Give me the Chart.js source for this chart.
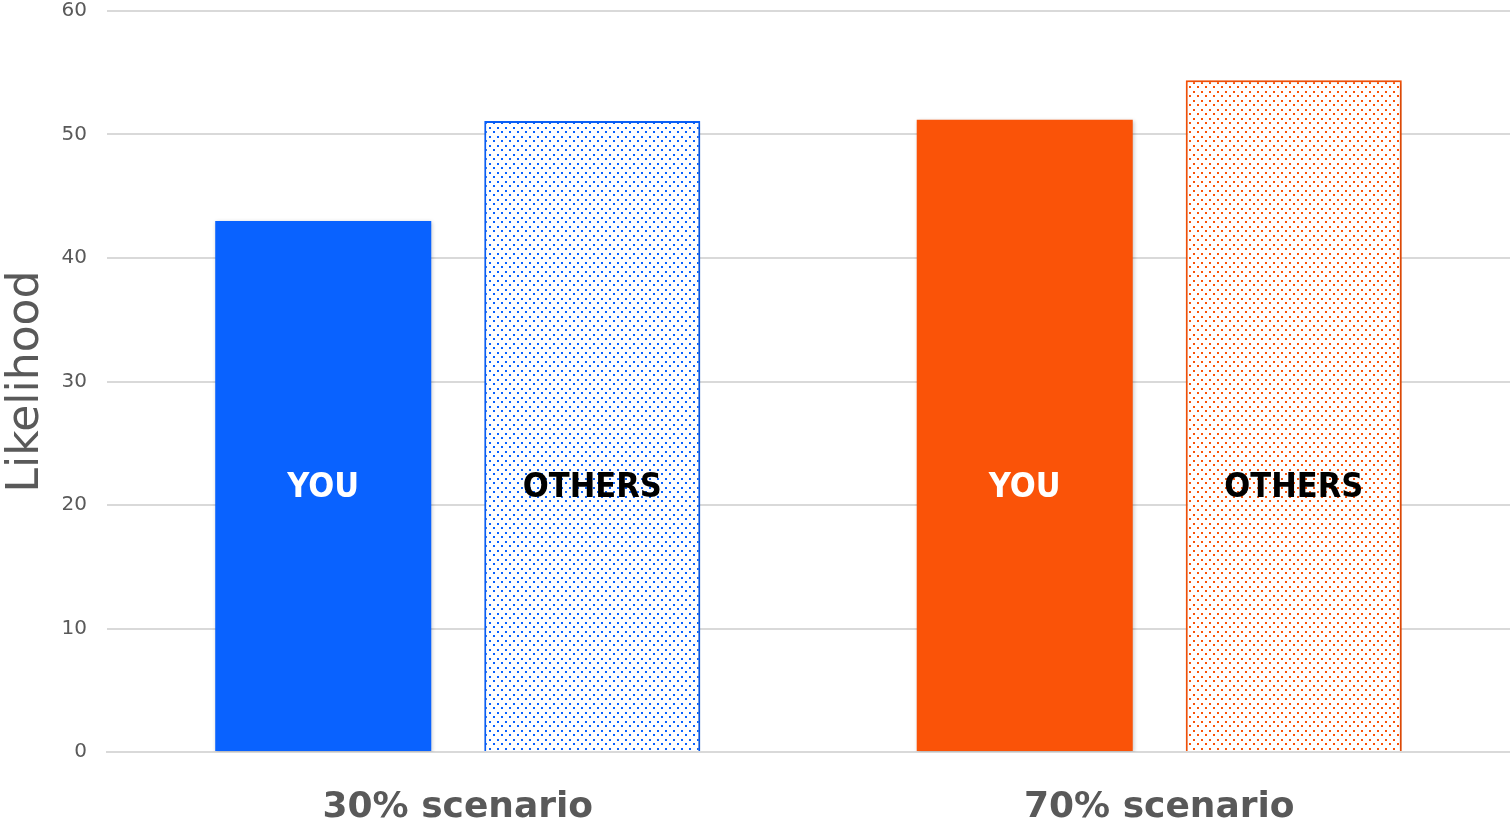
<!DOCTYPE html>
<html lang="en">
<head>
  <meta charset="UTF-8">
  <script src="https://cdn.jsdelivr.net/npm/chart.js"></script>
  <title>Likelihood by scenario</title>
  <style>
    html, body { margin: 0; padding: 0; background: #fff; }
    #wrap { width: 1510px; height: 823px; }
  </style>
</head>
<body>
  <div id="wrap"><canvas id="chart"></canvas></div>
  <script>
    // chart data
    const scenarios = ['30% scenario', '70% scenario'];
    const seriesNames = ['YOU', 'OTHERS'];
    const youValues = [43.0, 51.2];
    const othersValues = [51.1, 54.4];
    const yTicks = [0, 10, 20, 30, 40, 50, 60];

    const blue = '#0962FF';
    const orange = '#FA5308';

    // dotted fill for the "others" bars
    function dots(color) {
      const c = document.createElement('canvas');
      c.width = 8; c.height = 9;
      const g = c.getContext('2d');
      g.fillStyle = '#fff';
      g.fillRect(0, 0, 8, 9);
      g.fillStyle = color;
      g.fillRect(1, 1, 2, 2);
      g.fillRect(5, 5, 2, 2);
      return g.createPattern(c, 'repeat');
    }

    // soft shadow under the bars
    const barShadow = {
      id: 'barShadow',
      beforeDatasetsDraw(chart) {
        const ctx = chart.ctx;
        ctx.save();
        ctx.shadowColor = 'rgba(0,0,0,0.22)';
        ctx.shadowBlur = 4;
        ctx.shadowOffsetX = 1;
        ctx.shadowOffsetY = 1;
      },
      afterDatasetsDraw(chart) {
        chart.ctx.restore();
      }
    };

    // label written inside each bar
    const barText = {
      id: 'barText',
      afterDatasetsDraw(chart) {
        const ctx = chart.ctx;
        const y = chart.scales.y.getPixelForValue(21.4);
        ctx.save();
        ctx.font = 'bold 34px "DejaVu Sans Condensed", "DejaVu Sans"';
        ctx.textAlign = 'center';
        ctx.textBaseline = 'middle';
        chart.data.datasets.forEach((ds, i) => {
          chart.getDatasetMeta(i).data.forEach(bar => {
            ctx.fillStyle = i === 0 ? '#ffffff' : '#000000';
            ctx.fillText(ds.label, bar.x, y);
          });
        });
        ctx.restore();
      }
    };

    const ctx = document.getElementById('chart').getContext('2d');
    new Chart(ctx, {
      type: 'bar',
      data: {
        labels: scenarios,
        datasets: [{
          label: seriesNames[0],
          data: youValues,
          backgroundColor: [blue, orange],
          borderWidth: 0
        }, {
          label: seriesNames[1],
          data: othersValues,
          backgroundColor: [dots(blue), dots(orange)],
          borderColor: [blue, orange],
          borderWidth: 2
        }]
      },
      options: {
        responsive: true,
        maintainAspectRatio: false,
        animation: false,
        categoryPercentage: 0.767,
        barPercentage: 0.803,
        layout: { padding: { top: 11, right: 0, left: 0, bottom: 0 } },
        plugins: {
          legend: { display: false },
          tooltip: { enabled: false }
        },
        scales: {
          x: {
            grid: { display: false },
            border: { color: '#d9d9d9', width: 2 },
            ticks: {
              color: '#595959',
              padding: 26,
              font: { family: '"DejaVu Sans"', size: 36, weight: 'bold' }
            },
            afterFit(s) { s.height = 71; s.paddingLeft = 0; s.paddingRight = 0; }
          },
          y: {
            min: 0,
            max: 60,
            afterBuildTicks(s) { s.ticks = yTicks.map(v => ({ value: v })); },
            grid: { color: '#d9d9d9', lineWidth: 2, drawTicks: false },
            border: { display: false },
            ticks: {
              color: '#595959',
              padding: 20,
              font: { family: '"DejaVu Sans"', size: 20 }
            },
            title: {
              display: true,
              text: 'Likelihood',
              color: '#595959',
              font: { family: '"DejaVu Sans"', size: 44 },
              padding: { top: 0, bottom: 0 }
            },
            afterFit(s) { s.width = 107; s.paddingTop = 0; s.paddingBottom = 0; }
          }
        }
      },
      plugins: [barShadow, barText]
    });
  </script>
</body>
</html>
